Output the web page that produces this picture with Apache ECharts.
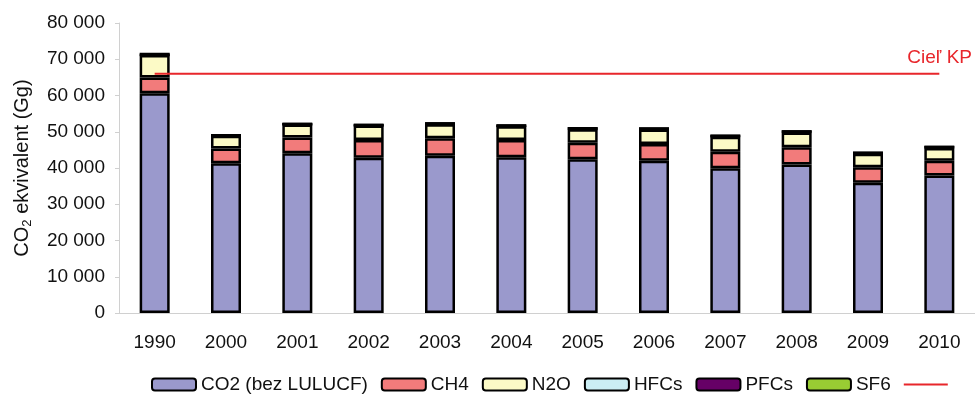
<!DOCTYPE html>
<html>
<head>
<meta charset="utf-8">
<script src="https://cdn.jsdelivr.net/npm/echarts@6/dist/echarts.min.js"></script>
<style>
    html, body { margin: 0; padding: 0; background: #fff; }
    #chart { width: 975px; height: 400px; }
</style>
</head>
<body>
<div id="chart"></div>
<script>
    // roky a emisie (Gg CO2 ekv.), odcitane z grafu
    var years = ['1990', '2000', '2001', '2002', '2003', '2004', '2005', '2006', '2007', '2008', '2009', '2010'];
    var co2 = [60600, 41300, 44100, 42800, 43400, 43000, 42400, 42000, 39900, 41000, 35900, 37900];
    var ch4 = [4400, 4100, 4300, 4900, 4800, 4700, 4600, 4600, 4600, 4700, 4300, 4100];
    var n2o = [6200, 3500, 3600, 4000, 3900, 3800, 3700, 4000, 4100, 4100, 3700, 3500];
    var hfcs = [0, 60, 90, 110, 130, 150, 180, 210, 230, 250, 260, 280];
    var pfcs = [250, 60, 60, 60, 60, 60, 50, 50, 40, 40, 20, 20];
    var sf6 = [0, 10, 10, 10, 10, 15, 15, 15, 15, 15, 15, 15];
    var cielKP = [66000, 66000, 66000, 66000, 66000, 66000, 66000, 66000, 66000, 66000, 66000, 66000];
    var yTicks = { min: 0, max: 80000, interval: 10000 };

    var FONT = 'Liberation Sans, Arial, sans-serif';
    var RED = '#E8262B';

    function barSerie(name, data, color) {
        return {
            name: name,
            type: 'bar',
            stack: 'spolu',
            data: data,
            barWidth: 30,
            itemStyle: {
                color: color,
                borderColor: '#000',
                borderWidth: 2.5
            }
        };
    }

    var myChart = echarts.init(document.getElementById('chart'));
    var option = {
        animation: false,
        textStyle: { fontFamily: FONT },
        grid: {
            left: 119,
            top: 23,
            bottom: 87,
            width: 870
        },
        legend: {
            left: 146,
            top: 370,
            itemWidth: 44,
            itemHeight: 12,
            itemGap: 13,
            textStyle: { fontSize: 19, color: '#111', fontFamily: FONT },
            data: [
                'CO2 (bez LULUCF)', 'CH4', 'N2O', 'HFCs', 'PFCs', 'SF6',
                // ciara v legende bez znacky
                { name: ' ', icon: 'path://M0 0M0 5L44 5L44 7L0 7ZM44 12' }
            ]
        },
        xAxis: {
            type: 'category',
            data: years,
            axisLine: { lineStyle: { color: '#d0d0d0', width: 1 } },
            axisTick: { length: 5, lineStyle: { color: '#d0d0d0' } },
            axisLabel: { fontSize: 19, color: '#111', margin: 20 }
        },
        yAxis: {
            type: 'value',
            min: yTicks.min,
            max: yTicks.max,
            interval: yTicks.interval,
            name: '{n|CO}{s|2}{n| ekvivalent (Gg)}',
            nameLocation: 'middle',
            nameGap: 85,
            nameTextStyle: {
                color: '#111',
                fontSize: 20,
                rich: {
                    n: { fontSize: 20, color: '#111' },
                    s: { fontSize: 13, color: '#111', padding: [10, 0, 0, 0] }
                }
            },
            axisLine: { show: true, lineStyle: { color: '#d0d0d0' } },
            axisTick: { show: true, length: 4, lineStyle: { color: '#d0d0d0' } },
            splitLine: { show: false },
            axisLabel: {
                fontSize: 19,
                color: '#111',
                margin: 14,
                formatter: function (v) {
                    return String(v).replace(/\B(?=(\d{3})+(?!\d))/g, ' ');
                }
            }
        },
        series: [
            barSerie('CO2 (bez LULUCF)', co2, '#9A99CC'),
            barSerie('CH4', ch4, '#F27B7B'),
            barSerie('N2O', n2o, '#FCFAC6'),
            barSerie('HFCs', hfcs, '#CBEEF4'),
            barSerie('PFCs', pfcs, '#660066'),
            barSerie('SF6', sf6, '#99CC33'),
            {
                name: ' ',
                type: 'line',
                data: cielKP,
                symbol: 'none',
                lineStyle: { color: RED, width: 2 },
                itemStyle: { color: RED },
                endLabel: {
                    show: true,
                    formatter: 'Cieľ KP',
                    color: RED,
                    fontSize: 19,
                    offset: [-40, -16]
                }
            }
        ]
    };
    myChart.setOption(option);
</script>
</body>
</html>
